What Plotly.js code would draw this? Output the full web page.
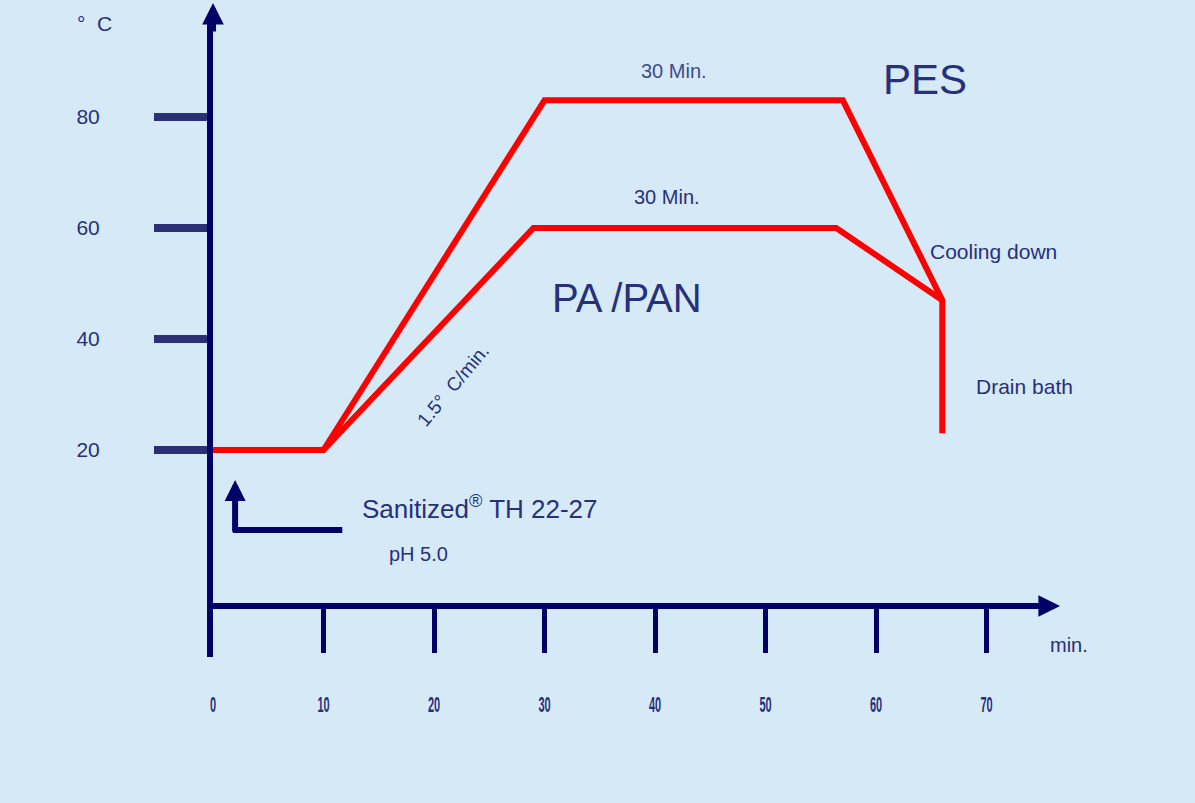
<!DOCTYPE html>
<html>
<head>
<meta charset="utf-8">
<script src="https://cdn.plot.ly/plotly-3.0.1.min.js"></script>
<style>html,body{margin:0;padding:0;background:#d6e9f7;}#chart{width:1195px;height:803px;}</style>
</head>
<body>
<div id="chart"></div>
<script>
// ---- data (minutes, °C) ----
const pesTime = [0, 10, 30, 57, 66, 66];
const pesTemp = [20, 20, 83, 83, 47, 23];
const paTime  = [10, 29, 56.4, 66];
const paTemp  = [20, 60, 60, 47];
const xTickVals = [0, 10, 20, 30, 40, 50, 60, 70];
const xTickText = ['0', '10', '20', '30', '40', '50', '60', '70'];
const yTickVals = [20, 40, 60, 80];
const yTickText = ['20', '40', '60', '80'];
const dosingX = [1.8, 11.7];
const dosingY = [5.6, 5.6];
const dosingTip = [2.0, 14.6];
const dosingTail = [2.0, 5.0];

const NAVY = '#000066';
const TXT = '#28307a';
const FONT = 'Liberation Sans, Arial, sans-serif';

const W = 1195, H = 803;
const L = 213, R = 150, T = 22, B = 146;
const plotW = W - L - R, plotH = H - T - B;
const xAxisPos = (H - B - 606) / plotH;

const traces = [
  {x: pesTime, y: pesTemp, mode: 'lines', line: {color: '#ff0000', width: 6}, hoverinfo: 'skip', showlegend: false},
  {x: paTime, y: paTemp, mode: 'lines', line: {color: '#ff0000', width: 6}, hoverinfo: 'skip', showlegend: false},
  {x: dosingX, y: dosingY, mode: 'lines', line: {color: NAVY, width: 6}, hoverinfo: 'skip', showlegend: false}
];

function txt(text, x, y, size, extra) {
  return Object.assign({text: text, x: x, y: y, xref: 'x', yref: 'y', showarrow: false,
    xanchor: 'center', yanchor: 'middle', font: {family: FONT, size: size, color: TXT}}, extra || {});
}

const annotations = [
  txt('30 Min.', 41.7, 88.3, 20, {font: {family: FONT, size: 20, color: '#3d4b8f'}}),
  txt('30 Min.', 41.1, 65.6, 20),
  txt('PES', 64.4, 86.8, 42),
  txt('PA /PAN', 37.5, 47.4, 40),
  txt('Cooling down', 70.6, 55.7, 21),
  txt('Drain bath', 73.4, 31.4, 21),
  txt('1.5°\u00a0 C/min.', 21.7, 31.7, 19, {textangle: -50}),
  txt('Sanitized<sup>®</sup> TH 22-27', 24.2, 9.7, 26),
  txt('pH 5.0', 18.6, 1.3, 20),
  txt('°\u00a0 C', -0.1424, 0.9969, 21, {xref: 'paper', yref: 'paper'}),
  txt('min.', 1.0288, 0.0189, 20, {xref: 'paper', yref: 'paper'}),
  // axis arrow heads
  {x: 1 + 15 / plotW, y: xAxisPos, xref: 'paper', yref: 'paper', text: '', showarrow: true,
   ax: -30, ay: 0, arrowhead: 2, arrowwidth: 6, arrowsize: 0.72, arrowcolor: NAVY},
  {x: 0, y: 1 + 19 / plotH, xref: 'paper', yref: 'paper', text: '', showarrow: true,
   ax: 0, ay: 30, arrowhead: 2, arrowwidth: 6, arrowsize: 0.72, arrowcolor: NAVY},
  // dosing arrow
  {x: dosingTip[0], y: dosingTip[1], ax: dosingTail[0], ay: dosingTail[1], xref: 'x', yref: 'y',
   axref: 'x', ayref: 'y', text: '', showarrow: true, arrowhead: 2, arrowwidth: 6, arrowsize: 0.7, arrowcolor: NAVY}
];

const layout = {
  width: W, height: H,
  margin: {l: L, r: R, t: T, b: B, pad: 0},
  paper_bgcolor: '#d6e9f7', plot_bgcolor: '#d6e9f7',
  showlegend: false,
  xaxis: {
    range: [0, plotW / 11.05], anchor: 'free', position: xAxisPos,
    showgrid: false, zeroline: false, showline: true, linecolor: NAVY, linewidth: 6,
    ticks: 'outside', ticklen: 44, tickwidth: 5, tickcolor: NAVY,
    tickvals: xTickVals, ticktext: xTickText, ticklabelstandoff: 33,
    tickfont: {family: FONT, size: 22, color: TXT, weight: 'bold'},
    fixedrange: true
  },
  yaxis: {
    range: [(561 - (H - B)) / 5.55, (561 - T) / 5.55],
    showgrid: false, zeroline: false, showline: true, linecolor: NAVY, linewidth: 6,
    ticks: 'outside', ticklen: 53, tickwidth: 8, tickcolor: '#2b2f73',
    tickvals: yTickVals, ticktext: yTickText, ticklabelstandoff: 50,
    tickfont: {family: FONT, size: 21, color: TXT},
    fixedrange: true
  },
  annotations: annotations
};

Plotly.newPlot('chart', traces, layout, {staticPlot: true, displayModeBar: false}).then(function (gd) {
  // the reference's minute labels are strongly condensed: squeeze them horizontally
  gd.querySelectorAll('.xtick text').forEach(function (el) {
    var x = parseFloat(el.getAttribute('x')) || 0;
    var t = el.getAttribute('transform') || '';
    el.setAttribute('transform', t + ' translate(' + x + ',0) scale(0.5,1) translate(' + (-x) + ',0)');
  });
  // the 0-minute tick coincides with the temperature axis line in the reference
  gd.querySelectorAll('path.xtick').forEach(function (el) {
    if (el.__data__ && el.__data__.x === 0) el.style.display = 'none';
  });
});
</script>
</body>
</html>
